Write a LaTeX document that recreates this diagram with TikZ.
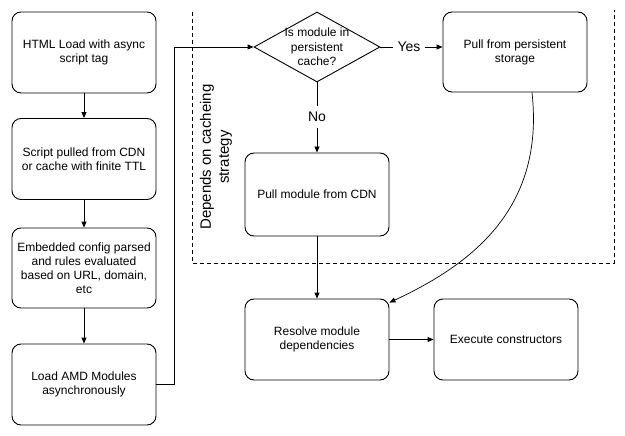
\documentclass[tikz,border=0pt]{standalone}
\usepackage{fontspec}
\setmainfont{Liberation Sans}
\usetikzlibrary{shapes.geometric,arrows.meta}

\begin{document}
\begin{tikzpicture}[x=1pt,y=-1pt,line width=0.9pt,>={Triangle[length=6pt,width=5pt]}]
\tikzset{etape/.style={draw, rounded corners=9pt, minimum width=144pt, minimum height=81pt, align=center, font=\fontsize{12}{14}\selectfont}}
\tikzset{choix/.style={draw, diamond, minimum width=126pt, minimum height=70pt, inner sep=0pt}}
\tikzset{reponse/.style={font=\fontsize{14}{16}\selectfont, inner xsep=4pt, inner ysep=6pt}}
\useasboundingbox (0,0) rectangle (625,436);
\node[etape] (B1) at (84,52.5) {HTML Load with async\\script tag};
\node[etape] (B2) at (84,159) {Script pulled from CDN\\or cache with finite TTL};
\node[etape, minimum height=80pt] (B3) at (84,268) {Embedded config parsed\\and rules evaluated\\based on URL, domain,\\etc};
\node[etape] (B4) at (84,384.5) {Load AMD Modules\\asynchronously};
\node[choix] (D) at (317,47) {};
\node[align=center, font=\fontsize{12}{14.5}\selectfont] (Dtxt) at (D) {Is module in\\persistent\\cache?};
\node[etape, minimum height=80pt] (P) at (515,52) {Pull from persistent\\storage};
\node[etape, minimum height=83pt] (C) at (317,194.5) {Pull module from CDN};
\node[etape] (R) at (317,339.5) {Resolve module\\dependencies};
\node[etape] (E) at (506,339.5) {Execute constructors};
\node[reponse] (Y) at (409,47) {Yes};
\node[reponse] (N) at (317,117) {No};
\node[rotate=90, align=center, font=\fontsize{15}{18}\selectfont] (S) at (216,157) {Depends on cacheing\\strategy};
\draw[dash pattern=on 4pt off 3pt, line width=0.8pt] (192,12) -- (192,263) -- (614,263) -- (614,10);
\draw[->] (B1) -- (B2);
\draw[->] (B2) -- (B3);
\draw[->] (B3) -- (B4);
\draw[->] (B4.east) -- ++(18,0) |- (D.west);
\draw (D.east) -- (Y.west);
\draw[->] (Y.east) -- (Y.east -| P.west);
\draw (D.south) -- (N.north);
\draw[->] (N.south) -- (C.north);
\draw[->] (C) -- (R);
\draw[->, line width=0.7pt] ([xshift=17pt]P.south) .. controls (545,210) and (470,265) .. ([yshift=-4pt]R.north east);
\draw[->] (R) -- (E);
\end{tikzpicture}
\end{document}
